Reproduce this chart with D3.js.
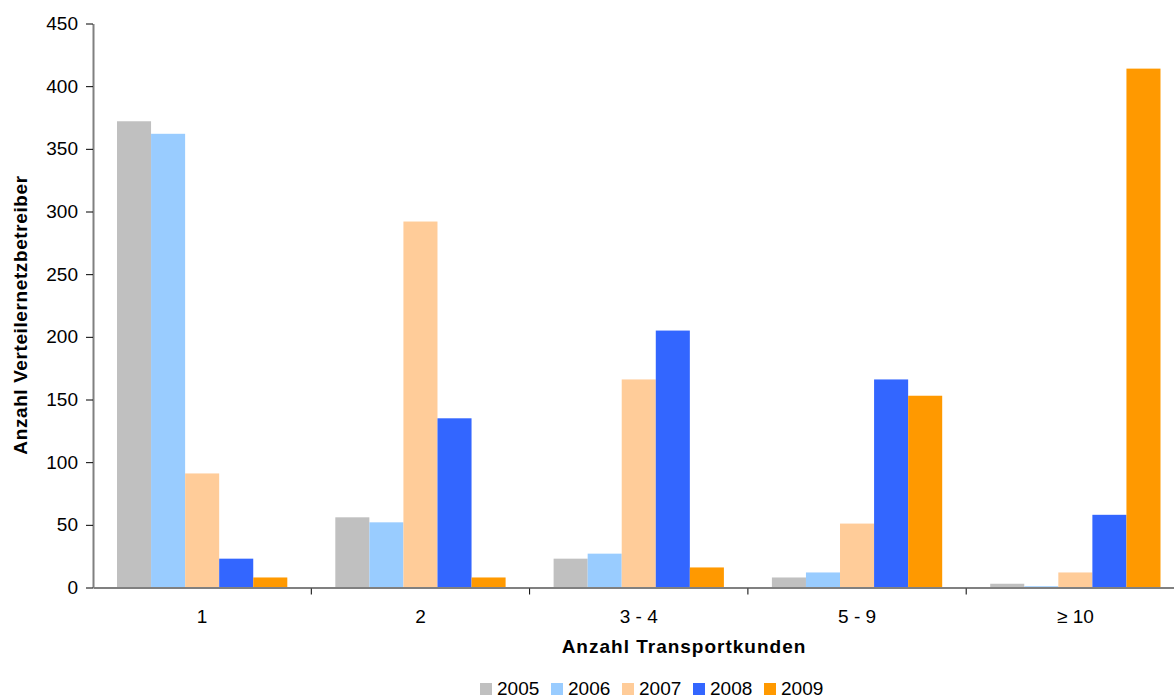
<!DOCTYPE html>
<html>
<head>
<meta charset="utf-8">
<script src="https://cdn.jsdelivr.net/npm/d3@7"></script>
<style>
  html, body { margin: 0; padding: 0; background: #fff; }
  svg { display: block; font-family: "Liberation Sans", Arial, sans-serif; }
</style>
</head>
<body>
<svg id="chart" width="1174" height="699"></svg>
<script>
const categories = ["1", "2", "3 - 4", "5 - 9", "\u2265 10"];
const years = ["2005", "2006", "2007", "2008", "2009"];
const values2005 = [372, 56, 23, 8, 3];
const values2006 = [362, 52, 27, 12, 1];
const values2007 = [91, 292, 166, 51, 12];
const values2008 = [23, 135, 205, 166, 58];
const values2009 = [8, 8, 16, 153, 414];
const yTicks = [0, 50, 100, 150, 200, 250, 300, 350, 400, 450];
const colors = ["#C0C0C0", "#99CCFF", "#FFCC99", "#3366FF", "#FF9900"];
const series = [values2005, values2006, values2007, values2008, values2009];

const svg = d3.select("#chart");
const plotLeft = 93, catW = 218.3, plotTop = 23.5, plotBottom = 587.5;

const x = d3.scaleBand().domain(categories).range([plotLeft, plotLeft + catW * categories.length]).padding(0);
const xi = d3.scaleBand().domain(years).range([24, catW - 24]).padding(0);
const y = d3.scaleLinear().domain([0, 450]).range([plotBottom, plotTop]);
const color = d3.scaleOrdinal().domain(years).range(colors);

// bars
years.forEach((yr, si) => {
  svg.append("g").selectAll("rect")
    .data(categories.map((c, ci) => ({ c, v: series[si][ci] })))
    .join("rect")
    .attr("x", d => x(d.c) + xi(yr))
    .attr("width", xi.bandwidth())
    .attr("y", d => y(d.v))
    .attr("height", d => plotBottom - y(d.v))
    .attr("fill", color(yr));
});

// y axis
const yAxis = svg.append("g").attr("transform", `translate(${plotLeft},0)`)
  .call(d3.axisLeft(y).tickValues(yTicks).tickSize(7).tickSizeOuter(0).tickPadding(8));
yAxis.select(".domain").attr("stroke", "#808080").attr("stroke-width", 2);
yAxis.selectAll(".tick line").attr("stroke", "#000").attr("stroke-width", 1);
yAxis.selectAll(".tick text").attr("font-size", 19).attr("fill", "#000")
  .attr("font-family", "Liberation Sans, Arial, sans-serif");

// x axis
const xAxis = svg.append("g").attr("transform", `translate(0,${plotBottom})`)
  .call(d3.axisBottom(x).tickSize(0).tickSizeOuter(0).tickPadding(22));
xAxis.select(".domain").attr("stroke", "#808080").attr("stroke-width", 2);
xAxis.selectAll(".tick text").attr("font-size", 19).attr("fill", "#000")
  .attr("font-family", "Liberation Sans, Arial, sans-serif");
// boundary ticks between categories
xAxis.selectAll(".sep").data(categories.slice(1)).join("line")
  .attr("x1", d => x(d)).attr("x2", d => x(d))
  .attr("y1", 1).attr("y2", 7).attr("stroke", "#000");

// axis titles
svg.append("text").attr("x", 684).attr("y", 653).attr("text-anchor", "middle")
  .attr("font-size", 19).attr("font-weight", "bold").attr("letter-spacing", 1)
  .text("Anzahl Transportkunden");
svg.append("text").attr("transform", "translate(27,315) rotate(-90)").attr("text-anchor", "middle")
  .attr("font-size", 19).attr("font-weight", "bold").attr("letter-spacing", 0.6)
  .text("Anzahl Verteilernetzbetreiber");

// legend
const lg = svg.append("g").attr("transform", "translate(480,681)");
years.forEach((yr, i) => {
  const g = lg.append("g").attr("transform", `translate(${i * 71},0)`);
  g.append("rect").attr("x", 0).attr("y", 2).attr("width", 12).attr("height", 12).attr("fill", color(yr));
  g.append("text").attr("x", 17).attr("y", 14).attr("font-size", 19).text(yr);
});
</script>
</body>
</html>
